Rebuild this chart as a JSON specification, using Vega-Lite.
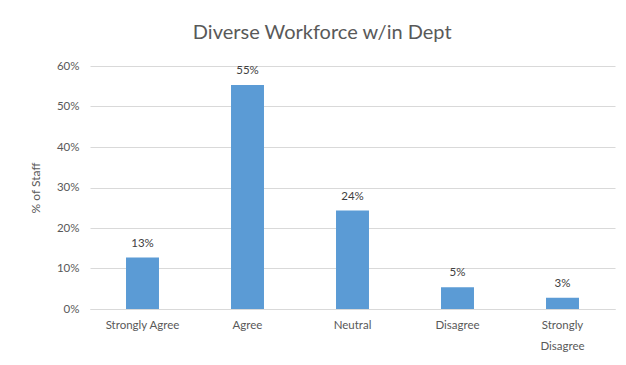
{
  "$schema": "https://vega.github.io/schema/vega-lite/v6.json",
  "autosize": "none",
  "width": 525,
  "height": 243,
  "padding": {"left": 90, "top": 66, "right": 11, "bottom": 56},
  "background": "white",
  "title": {
    "text": "Diverse Workforce w/in Dept",
    "font": "Lato",
    "fontSize": 20,
    "fontWeight": "normal",
    "color": "#595959",
    "anchor": "middle",
    "frame": "bounds",
    "offset": 17
  },
  "data": {
    "values": [
      {"response": "Strongly Agree", "share": 0.127},
      {"response": "Agree", "share": 0.553},
      {"response": "Neutral", "share": 0.243},
      {"response": "Disagree", "share": 0.054},
      {"response": "Strongly Disagree", "share": 0.028}
    ]
  },
  "encoding": {
    "x": {
      "field": "response",
      "type": "nominal",
      "sort": null,
      "scale": {"paddingInner": 0.686, "paddingOuter": 0.343},
      "axis": {
        "title": null,
        "labelAngle": 0,
        "labelFont": "Lato",
        "labelFontSize": 11.5,
        "labelColor": "#595959",
        "labelPadding": 10,
        "labelLineHeight": 21,
        "ticks": false,
        "domainColor": "#D9D9D9",
        "labelExpr": "datum.value == 'Strongly Disagree' ? ['Strongly', 'Disagree'] : datum.value"
      }
    },
    "y": {
      "field": "share",
      "type": "quantitative",
      "scale": {"domain": [0, 0.6]},
      "axis": {
        "title": "% of Staff",
        "titleFont": "Lato",
        "titleFontSize": 12,
        "titleFontWeight": "normal",
        "titleColor": "#595959",
        "titlePadding": 14,
        "format": ".0%",
        "values": [0, 0.1, 0.2, 0.3, 0.4, 0.5, 0.6],
        "labelOverlap": false,
        "labelFont": "Lato",
        "labelFontSize": 11.5,
        "labelColor": "#595959",
        "labelPadding": 11,
        "ticks": false,
        "domain": false,
        "gridColor": "#D9D9D9"
      }
    }
  },
  "layer": [
    {"mark": {"type": "bar", "color": "#5B9BD5"}},
    {
      "mark": {"type": "text", "dy": -14, "font": "Lato", "fontSize": 11.5, "color": "#404040"},
      "encoding": {"text": {"field": "share", "type": "quantitative", "format": ".0%"}}
    }
  ],
  "config": {"view": {"stroke": null}}
}
